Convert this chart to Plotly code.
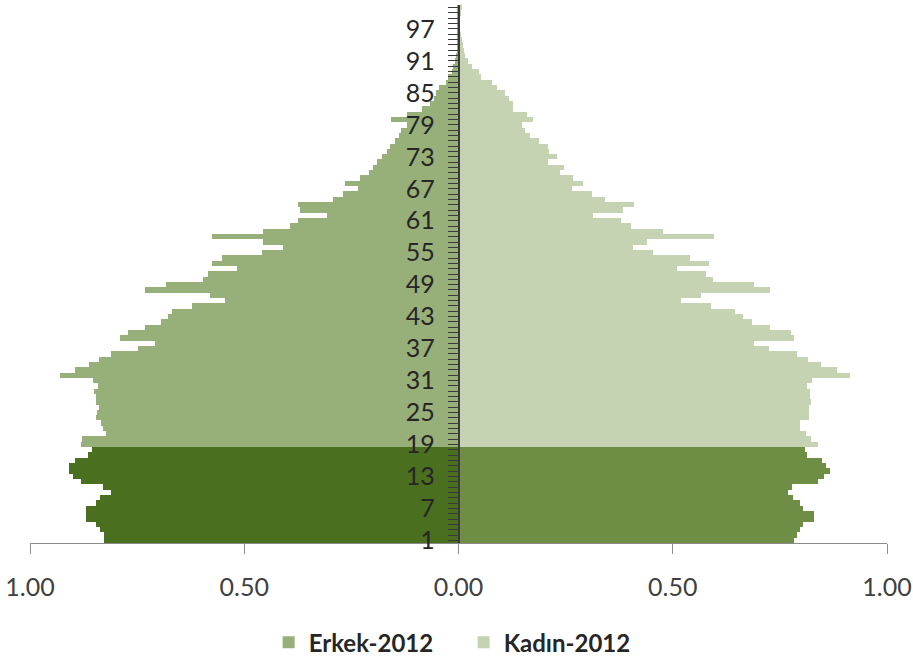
import plotly.graph_objects as go

# Ages 1..101 (bottom to top)
ages = list(range(1, 102))

# Male share (%) by age, ages 1..101
erkek = [
    0.828, 0.828, 0.837, 0.845, 0.870, 0.870, 0.870, 0.845, 0.837, 0.812,   # 1-10
    0.829, 0.880, 0.899, 0.908, 0.908, 0.895, 0.864, 0.856, 0.881, 0.878,   # 11-20
    0.823, 0.829, 0.835, 0.846, 0.843, 0.840, 0.845, 0.847, 0.851, 0.841,   # 21-30
    0.854, 0.930, 0.895, 0.862, 0.839, 0.810, 0.747, 0.708, 0.790, 0.771,   # 31-40
    0.731, 0.695, 0.679, 0.668, 0.623, 0.545, 0.580, 0.731, 0.683, 0.596,   # 41-50
    0.584, 0.518, 0.576, 0.551, 0.459, 0.409, 0.457, 0.576, 0.457, 0.393,   # 51-60
    0.374, 0.308, 0.370, 0.374, 0.294, 0.269, 0.234, 0.265, 0.230, 0.210,   # 61-70
    0.199, 0.190, 0.179, 0.168, 0.160, 0.148, 0.140, 0.135, 0.121, 0.158,   # 71-80
    0.121, 0.086, 0.066, 0.058, 0.052, 0.045, 0.030, 0.024, 0.016, 0.012,   # 81-90
    0.008, 0.005, 0.004, 0.003, 0.003, 0.003, 0.003, 0.002, 0.002, 0.002,   # 91-100
    0.002,                                                                  # 101
]

# Female share (%) by age, ages 1..101
kadin = [
    0.784, 0.791, 0.798, 0.804, 0.829, 0.829, 0.804, 0.796, 0.780, 0.770,   # 1-10
    0.778, 0.840, 0.852, 0.868, 0.858, 0.848, 0.813, 0.809, 0.840, 0.823,   # 11-20
    0.810, 0.798, 0.798, 0.817, 0.817, 0.817, 0.823, 0.821, 0.821, 0.813,   # 21-30
    0.826, 0.914, 0.883, 0.847, 0.815, 0.791, 0.725, 0.689, 0.784, 0.776,   # 31-40
    0.728, 0.685, 0.665, 0.645, 0.589, 0.519, 0.566, 0.728, 0.689, 0.593,   # 41-50
    0.577, 0.510, 0.584, 0.541, 0.454, 0.407, 0.441, 0.597, 0.477, 0.402,   # 51-60
    0.379, 0.315, 0.383, 0.410, 0.342, 0.311, 0.264, 0.290, 0.267, 0.236,   # 61-70
    0.247, 0.208, 0.231, 0.212, 0.208, 0.188, 0.167, 0.155, 0.148, 0.175,   # 71-80
    0.161, 0.127, 0.127, 0.118, 0.109, 0.091, 0.078, 0.052, 0.048, 0.031,   # 81-90
    0.023, 0.015, 0.012, 0.010, 0.008, 0.006, 0.004, 0.004, 0.004, 0.006,   # 91-100
    0.008,                                                                  # 101
]

child_max_age = 18
series_names = ["Erkek-2012", "Kadın-2012"]
x_tickvals = [-1, -0.5, 0, 0.5, 1]
x_ticktext = ["1.00", "0.50", "0.00", "0.50", "1.00"]
y_label_step = 6

C_M_ADULT = "#97AF78"
C_M_CHILD = "#4A6F1E"
C_F_ADULT = "#C6D3B3"
C_F_CHILD = "#6E8D45"

male_colors = [C_M_CHILD if a <= child_max_age else C_M_ADULT for a in ages]
female_colors = [C_F_CHILD if a <= child_max_age else C_F_ADULT for a in ages]

fig = go.Figure()
fig.add_trace(go.Bar(
    y=ages, x=[-v for v in erkek], orientation="h",
    marker=dict(color=male_colors, line=dict(width=0)),
    showlegend=False, hoverinfo="skip",
))
fig.add_trace(go.Bar(
    y=ages, x=kadin, orientation="h",
    marker=dict(color=female_colors, line=dict(width=0)),
    showlegend=False, hoverinfo="skip",
))
# legend entries
for name, col in zip(series_names, [C_M_ADULT, C_F_ADULT]):
    fig.add_trace(go.Scatter(
        x=[None], y=[None], mode="markers", name=name,
        marker=dict(symbol="square", size=20, color=col),
    ))

fig.update_layout(
    width=913, height=660,
    margin=dict(l=30, r=26, t=5, b=117, autoexpand=False),
    paper_bgcolor="white", plot_bgcolor="white",
    barmode="overlay", bargap=0,
    font=dict(family="Lato, Carlito, sans-serif", color="#404040"),
    legend=dict(
        orientation="h", x=0.506, xanchor="center", y=-0.185, yanchor="middle",
        font=dict(size=24, color="#262626", family="Lato, sans-serif", weight="bold"),
        itemsizing="constant", tracegroupgap=0, itemwidth=30,
        entrywidth=150, entrywidthmode="pixels",
    ),
    xaxis=dict(
        range=[-1, 1], tickvals=x_tickvals, ticktext=x_ticktext,
        showgrid=False, zeroline=False, automargin=False,
        showline=True, linecolor="#8C8C8C", linewidth=1,
        ticks="outside", ticklen=10, tickcolor="#8C8C8C", tickwidth=1,
        tickfont=dict(size=25, color="#404040"),
        ticklabelstandoff=12,
    ),
    yaxis=dict(
        range=[0.5, 101.5],
        tickvals=ages,
        ticktext=[str(a) if (a - 1) % y_label_step == 0 else "" for a in ages],
        anchor="free", position=0.5, side="left", automargin=False,
        showgrid=False, zeroline=False,
        showline=True, linecolor="#3A3A3A", linewidth=1.5,
        ticks="outside", ticklen=10, tickcolor="#3A3A3A", tickwidth=1,
        tickfont=dict(size=25, color="#262626"),
        ticklabelstandoff=8,
    ),
)

fig.write_html(
    "out.html",
    config={"displayModeBar": False},
    post_script="document.body.style.margin='0';document.body.style.padding='0';",
)
